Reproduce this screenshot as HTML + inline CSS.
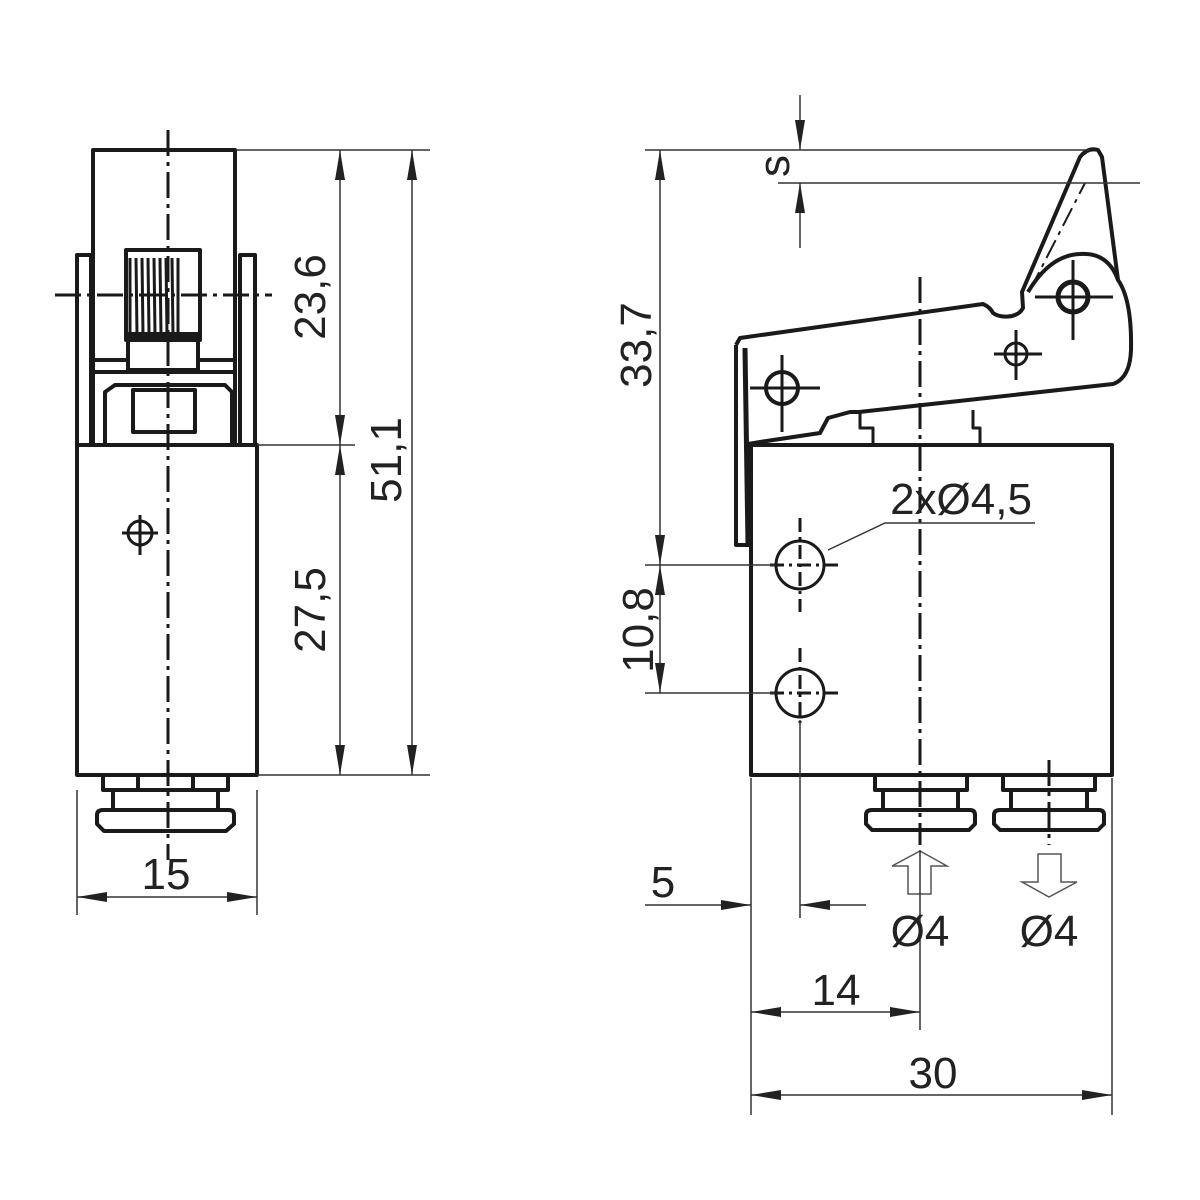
<!DOCTYPE html>
<html><head><meta charset="utf-8"><style>
html,body{margin:0;padding:0;background:#fff;}
svg{display:block;}
text{font-family:"Liberation Sans",sans-serif;fill:#222;font-size:44px;}
</style></head><body>
<svg width="1200" height="1200" viewBox="0 0 1200 1200" xmlns="http://www.w3.org/2000/svg">
<defs>
<marker id="a" viewBox="0 0 30 10" refX="30" refY="5" markerWidth="30" markerHeight="10" markerUnits="userSpaceOnUse" orient="auto-start-reverse"><path d="M0,0 L30,5 L0,10 Z" fill="#222"/></marker>
</defs>
<g fill="none" stroke="#1a1a1a" stroke-width="4" stroke-linejoin="round">
<!-- LEFT VIEW -->
<rect x="93" y="150" width="142" height="295"/>
<rect x="77" y="255" width="14" height="190"/>
<rect x="240" y="255" width="15" height="190"/>
<rect x="126" y="250" width="74" height="90"/>
<path d="M130 258 L130 335 M136 258 L137 335 M142 258 L143 335 M148 258 L149 335 M154 258 L155 335 M160 258 L161 335 M166 258 L167 335 M172 258 L173 335 M178 258 L178 335" stroke-width="3"/>
<path d="M126 335 L200 335" stroke-width="6"/>
<rect x="128" y="340" width="70" height="30"/>
<path d="M93 360 L128 360 M198 360 L235 360 M93 372 L235 372"/>
<path d="M105 445 L105 392 L115 385 L225 385 L232 392 L232 445"/>
<rect x="133" y="390" width="62" height="42"/>
<rect x="77" y="445" width="180" height="330"/>
<circle cx="140" cy="533" r="12" stroke-width="3"/>
<path d="M122 533 L158 533 M140 515 L140 555" stroke-width="3"/>
<rect x="103" y="775" width="125" height="15"/>
<path d="M113 790 L113 810 M218 790 L218 810 M138 775 L138 790 M193 775 L193 790"/>
<path d="M103 810 L229 810 Q234 810 234 815 L234 824 L226 831 L104 831 L97 824 L97 815 Q97 810 103 810 Z"/>
<!-- RIGHT VIEW -->
<rect x="751" y="445" width="361" height="330"/>
<path d="M751 545 L736 545 L736 345"/>
<path d="M745 348 L748 545" stroke-width="5"/>
<path d="M736 345 L740 338 L983 304 Q990 307 993 313 Q1000 318 1012 316 Q1020 314 1023 308 L1022 292 L1080 157 Q1088 147 1098 150 L1102 157 L1118 280 Q1132 300 1131 350 Q1130 378 1113 384 L859 412 L850 412 L828 418 L820 433 L760 442 L748 444"/>
<path d="M1028 292 Q1050 255 1080 254 Q1108 252 1118 280"/>
<path d="M1030 290 L1085 183" stroke-width="2" stroke-dasharray="20 6 4 6"/>
<path d="M860 412 L860 428 L873 428 L873 445 M973 410 L973 428 L980 428 L980 445" stroke-width="3"/>
<circle cx="782" cy="388" r="16"/>
<path d="M750 388 L820 388 M782 355 L782 432" stroke-width="3"/>
<circle cx="1073" cy="297" r="15" stroke-width="5"/>
<path d="M1035 297 L1113 297 M1073 260 L1073 340" stroke-width="3"/>
<circle cx="1016" cy="354" r="11" stroke-width="3"/>
<path d="M994 354 L1042 354 M1016 330 L1016 380" stroke-width="3"/>
<circle cx="800" cy="565" r="24" stroke-width="3"/>
<circle cx="800" cy="693" r="24" stroke-width="3"/>
<path d="M770 565 L838 565 M800 518 L800 612 M770 693 L838 693 M800 648 L800 723" stroke-width="3" stroke-dasharray="14 5 3 5"/>
<!-- fittings -->
<rect x="875" y="775" width="92" height="15"/>
<path d="M883 790 L883 810 M958 790 L958 810"/>
<path d="M872 810 L970 810 Q975 810 975 815 L975 824 L969 830 L872 830 L866 824 L866 815 Q866 810 872 810 Z"/>
<rect x="1003" y="775" width="92" height="15"/>
<path d="M1011 790 L1011 810 M1087 790 L1087 810"/>
<path d="M1000 810 L1099 810 Q1104 810 1104 815 L1104 824 L1098 830 L1000 830 L994 824 L994 815 Q994 810 1000 810 Z"/>
</g>
<!-- center lines -->
<g stroke="#1a1a1a" stroke-width="3" fill="none" stroke-dasharray="26 6 4 6">
<path d="M168 130 L168 860"/>
<path d="M55 295 L272 295"/>
<path d="M920 277 L920 845"/>
<path d="M1049 760 L1049 845"/>
</g>
<!-- hollow arrows -->
<g fill="#fff" stroke="#555" stroke-width="1.5">
<path d="M920 851 L947 866 L931 866 L931 894 L908 894 L908 866 L892 866 Z"/>
<path d="M1038 854 L1061 854 L1061 882 L1077 882 L1049 897 L1022 882 L1038 882 Z"/>
</g>
<!-- dimension lines -->
<g stroke="#333" stroke-width="1.5" fill="none">
<path d="M237 150 L430 150 M257 445 L355 445 M257 775 L430 775"/>
<path d="M340 150 L340 445" marker-start="url(#a)" marker-end="url(#a)"/>
<path d="M340 445 L340 775" marker-start="url(#a)" marker-end="url(#a)"/>
<path d="M412 150 L412 775" marker-start="url(#a)" marker-end="url(#a)"/>
<path d="M77 790 L77 915 M257 790 L257 915"/>
<path d="M77 897 L257 897" marker-start="url(#a)" marker-end="url(#a)"/>
<path d="M645 150 L1090 150 M778 183 L1140 183"/>
<path d="M800 95 L800 150" marker-end="url(#a)"/>
<path d="M800 248 L800 183" marker-end="url(#a)"/>
<path d="M645 565 L775 565 M645 693 L775 693"/>
<path d="M660 150 L660 565" marker-start="url(#a)" marker-end="url(#a)"/>
<path d="M660 565 L660 693" marker-start="url(#a)" marker-end="url(#a)"/>
<path d="M828 550 L885 523 L1035 523"/>
<path d="M751 778 L751 1115 M1112 778 L1112 1115 M800 720 L800 918 M920 850 L920 1030"/>
<path d="M645 905 L751 905" marker-end="url(#a)"/>
<path d="M866 905 L800 905" marker-end="url(#a)"/>
<path d="M751 1012 L920 1012" marker-start="url(#a)" marker-end="url(#a)"/>
<path d="M751 1095 L1112 1095" marker-start="url(#a)" marker-end="url(#a)"/>
</g>
<!-- text -->
<text transform="translate(325,297) rotate(-90)" text-anchor="middle">23,6</text>
<text transform="translate(325,610) rotate(-90)" text-anchor="middle">27,5</text>
<text transform="translate(401,460) rotate(-90)" text-anchor="middle">51,1</text>
<text transform="translate(651,345) rotate(-90)" text-anchor="middle">33,7</text>
<text transform="translate(653,630) rotate(-90)" text-anchor="middle">10,8</text>
<text transform="translate(789,166) rotate(-90)" text-anchor="middle">s</text>
<text x="961" y="514" text-anchor="middle">2xØ4,5</text>
<text x="663" y="897" text-anchor="middle">5</text>
<text x="920" y="946" text-anchor="middle">Ø4</text>
<text x="1049" y="946" text-anchor="middle">Ø4</text>
<text x="836" y="1005" text-anchor="middle">14</text>
<text x="166" y="889" text-anchor="middle">15</text>
<text x="933" y="1088" text-anchor="middle">30</text>
</svg>
</body></html>
